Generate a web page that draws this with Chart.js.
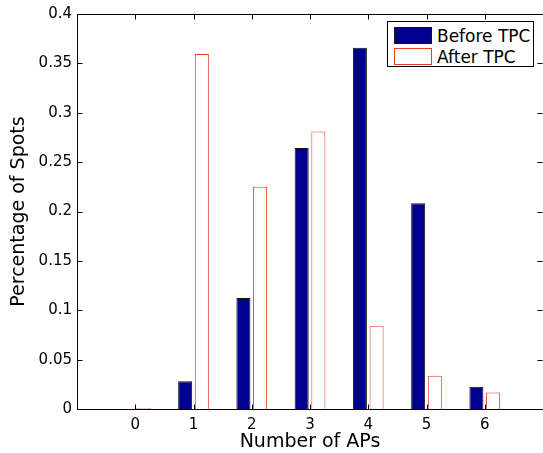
<!DOCTYPE html>
<html>
<head>
<title>Number of APs</title>
<style type="text/css">
    body {
        margin: 0;
        background: #fff;
    }

    #wrap {
        position: relative;
        width: 543px;
        height: 453px;
    }

    #legend {
        position: absolute;
        left: 387px;
        top: 21px;
        width: 147px;
        height: 46px;
        border: 1px solid #000;
        background: #fff;
        font-family: 'DejaVu Sans', sans-serif;
        font-size: 17px;
        color: #000;
        box-sizing: border-box;
        padding-top: 3px;
    }

    #legend .row {
        display: flex;
        align-items: center;
        height: 21px;
        padding-left: 6px;
    }

    #legend .swatch {
        width: 38px;
        height: 17px;
        box-sizing: border-box;
        margin-right: 5px;
    }
</style>
<script src="https://cdn.jsdelivr.net/npm/chart.js@4.4.0/dist/chart.umd.min.js"></script>
</head>
<body>
<div id="wrap">
    <canvas id="chart" width="543" height="453"></canvas>
    <div id="legend"></div>
</div>
<script>
    // share of spots that see a given number of APs
    var apCounts = [0, 1, 2, 3, 4, 5, 6];
    var beforeTPC = [0, 0.0282, 0.1125, 0.2643, 0.3657, 0.2083, 0.0225];
    var afterTPC = [0, 0.3594, 0.2250, 0.2811, 0.0843, 0.0336, 0.0168];
    var seriesNames = ['Before TPC', 'After TPC'];
    var yTicks = [0, 0.05, 0.1, 0.15, 0.2, 0.25, 0.3, 0.35, 0.4];
    var xRange = [-1, 7];

    var tickFont = { family: 'DejaVu Sans', size: 15 };
    var titleFont = { family: 'DejaVu Sans', size: 19, lineHeight: 1.2 };

    function toPoints(values) {
        return apCounts.map((x, i) => ({ x: x, y: values[i] }));
    }

    // box around the axes with inward tick marks, like a matlab figure
    var framePlugin = {
        id: 'frame',
        afterDatasetsDraw(chart) {
            var ctx = chart.ctx;
            var a = chart.chartArea;
            var x = chart.scales.x;
            var y = chart.scales.y;
            var L = Math.round(a.left) + 0.5, R = Math.round(a.right) + 0.5;
            var T = Math.round(a.top) + 0.5, B = Math.round(a.bottom) + 0.5;
            var len = 5;
            ctx.save();
            ctx.strokeStyle = '#000';
            ctx.lineWidth = 1;
            ctx.beginPath();
            ctx.rect(L, T, R - L, B - T);
            x.ticks.forEach(t => {
                var px = Math.round(x.getPixelForValue(t.value)) + 0.5;
                ctx.moveTo(px, B); ctx.lineTo(px, B - len);
                ctx.moveTo(px, T); ctx.lineTo(px, T + len);
            });
            y.ticks.forEach(t => {
                var py = Math.round(y.getPixelForValue(t.value)) + 0.5;
                ctx.moveTo(L, py); ctx.lineTo(L + len, py);
                ctx.moveTo(R - 1, py); ctx.lineTo(R - 1 - len, py);
            });
            ctx.stroke();
            ctx.restore();
        }
    };

    var datasets = [
        {
            label: seriesNames[0],
            data: toPoints(beforeTPC),
            backgroundColor: '#00008f',
            borderColor: '#141414',
            borderWidth: 1
        },
        {
            label: seriesNames[1],
            data: toPoints(afterTPC),
            backgroundColor: '#ffffff',
            borderColor: '#e4421f',
            borderWidth: 1,
            minBarLength: 1
        }
    ];

    var chart = new Chart(document.getElementById('chart'), {
        type: 'bar',
        data: { datasets: datasets },
        options: {
            responsive: false,
            animation: false,
            categoryPercentage: 0.573,
            barPercentage: 0.84,
            layout: { padding: { top: 12, right: 0, bottom: 0, left: 0 } },
            plugins: {
                legend: { display: false },
                tooltip: { enabled: false }
            },
            scales: {
                x: {
                    type: 'linear',
                    offset: false,
                    min: xRange[0],
                    max: xRange[1],
                    afterBuildTicks: s => {
                        s.ticks = [xRange[0]].concat(apCounts, [xRange[1]]).map(v => ({ value: v }));
                    },
                    afterFit: s => {
                        s.height = 44;
                        s.paddingLeft = 0;
                        s.paddingRight = 0;
                    },
                    ticks: {
                        font: tickFont,
                        color: '#000',
                        padding: 7,
                        maxRotation: 0,
                        autoSkip: false,
                        callback: v => apCounts.includes(v) ? String(v) : ''
                    },
                    grid: { display: false, drawTicks: false, offset: false },
                    border: { display: false },
                    title: {
                        display: true,
                        text: 'Number of APs',
                        font: titleFont,
                        color: '#000',
                        padding: { top: 0, bottom: 0 }
                    }
                },
                y: {
                    min: 0,
                    max: 0.4,
                    afterBuildTicks: s => {
                        s.ticks = yTicks.map(v => ({ value: v }));
                    },
                    afterFit: s => { s.width = 77; },
                    ticks: {
                        font: tickFont,
                        color: '#000',
                        padding: 5,
                        callback: v => String(v)
                    },
                    grid: { display: false, drawTicks: false },
                    border: { display: false },
                    title: {
                        display: true,
                        text: 'Percentage of Spots',
                        font: titleFont,
                        color: '#000',
                        padding: { top: 8, bottom: 0 }
                    }
                }
            }
        },
        plugins: [framePlugin]
    });

    // legend box in the top right corner, built from the datasets
    var legendEl = document.getElementById('legend');
    datasets.forEach(ds => {
        var row = document.createElement('div');
        row.className = 'row';
        var sw = document.createElement('div');
        sw.className = 'swatch';
        sw.style.background = ds.backgroundColor;
        sw.style.border = '1px solid ' + ds.borderColor;
        var txt = document.createElement('span');
        txt.textContent = ds.label;
        row.appendChild(sw);
        row.appendChild(txt);
        legendEl.appendChild(row);
    });
</script>
</body>
</html>
